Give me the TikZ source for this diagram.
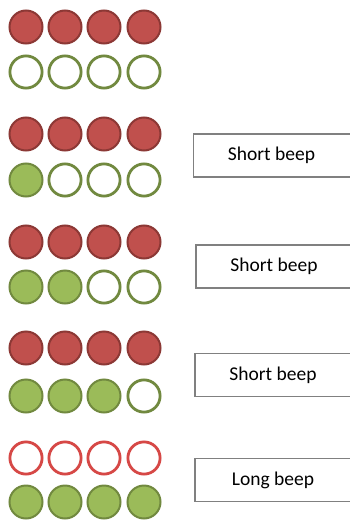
\documentclass[tikz,border=0pt]{standalone}
\usepackage{fontspec}
\setmainfont{Carlito}
\usetikzlibrary{positioning}

\definecolor{redfill}{RGB}{192,80,77}
\definecolor{redline}{RGB}{140,56,53}
\definecolor{ringred}{RGB}{214,72,70}
\definecolor{greenfill}{RGB}{155,187,89}
\definecolor{greenline}{RGB}{113,137,63}
\definecolor{boxline}{RGB}{128,128,128}

\begin{document}
\begin{tikzpicture}[x=1pt, y=-1pt,
    redon/.style={circle, draw=redline, fill=redfill, line width=2pt, minimum size=33pt, inner sep=0pt},
    redoff/.style={circle, draw=ringred, fill=white, line width=2.8pt, minimum size=32.2pt, inner sep=0pt},
    greenon/.style={circle, draw=greenline, fill=greenfill, line width=2pt, minimum size=33pt, inner sep=0pt},
    greenoff/.style={circle, draw=greenline, fill=white, line width=2.8pt, minimum size=32.2pt, inner sep=0pt},
    beepbox/.style={draw=boxline, line width=1.2pt, minimum width=160pt, minimum height=43pt, inner sep=0pt, font=\fontsize{19.5}{22}\selectfont}]
    \useasboundingbox (0,0) rectangle (349,522);

    % Draw lamps
    \foreach \c [count=\k] in {26,65,104,144} {
        \node[redon] (a\k) at (\c,27) {};
        \node[redon] (b\k) at (\c,134) {};
        \node[redon] (c\k) at (\c,242) {};
        \node[redon] (d\k) at (\c,348) {};
        \node[redoff] (e\k) at (\c,458) {};
    }
    \foreach \c/\s [count=\k] in {26/greenoff,65/greenoff,104/greenoff,144/greenoff}
        \node[\s] (a\k g) at (\c,72) {};
    \foreach \c/\s [count=\k] in {26/greenon,65/greenoff,104/greenoff,144/greenoff}
        \node[\s] (b\k g) at (\c,180) {};
    \foreach \c/\s [count=\k] in {26/greenon,65/greenon,104/greenoff,144/greenoff}
        \node[\s] (c\k g) at (\c,287) {};
    \foreach \c/\s [count=\k] in {26/greenon,65/greenon,104/greenon,144/greenoff}
        \node[\s] (d\k g) at (\c,396) {};
    \foreach \c/\s [count=\k] in {26/greenon,65/greenon,104/greenon,144/greenon}
        \node[\s] (e\k g) at (\c,502) {};

    % Beeps
    \node[beepbox] (beep1) at (273.5,155.5) {\hspace*{-4pt}Short beep};
    \node[beepbox] (beep2) at (276,266.5) {\hspace*{-4pt}Short beep};
    \node[beepbox] (beep3) at (275,375) {\hspace*{-4pt}Short beep};
    \node[beepbox] (beep4) at (275,480) {\hspace*{-4pt}Long beep};
\end{tikzpicture}
\end{document}
